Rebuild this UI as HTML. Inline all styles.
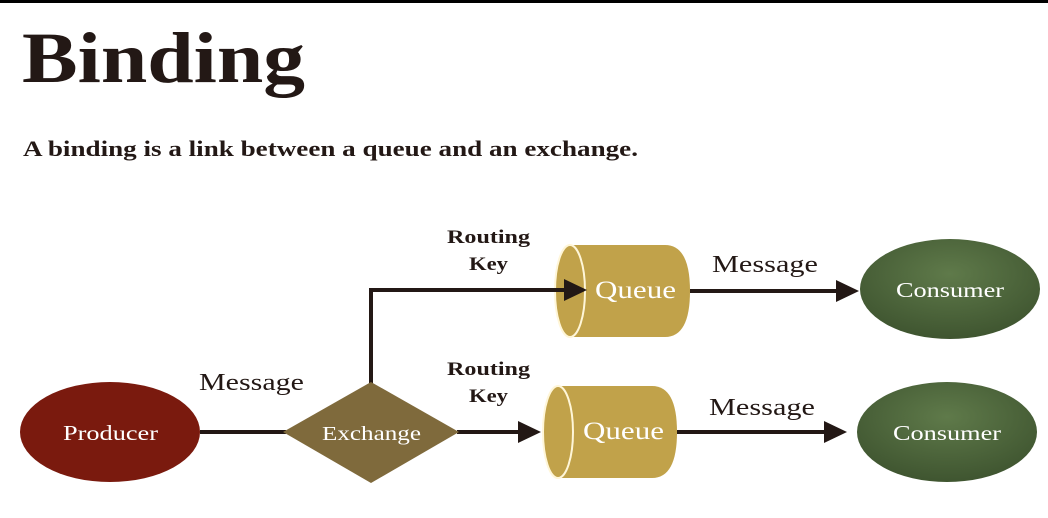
<!DOCTYPE html>
<html><head><style>
body{margin:0;width:1048px;height:513px;background:#fff;overflow:hidden;}
</style></head><body>
<svg width="1048" height="513" xmlns="http://www.w3.org/2000/svg" font-family="Liberation Serif, serif">
<defs>
<radialGradient id="g" cx="50%" cy="35%" r="65%"><stop offset="0" stop-color="#5f7a4a"/><stop offset="1" stop-color="#3f5530"/></radialGradient>
</defs>
<rect x="0" y="0" width="1048" height="3" fill="#000"/>
<text x="22" y="82" font-size="72" font-weight="bold" fill="#231815" textLength="283" lengthAdjust="spacingAndGlyphs">Binding</text>
<text x="23" y="156" font-size="22" font-weight="bold" fill="#231815" textLength="615" lengthAdjust="spacingAndGlyphs">A binding is a link between a queue and an exchange.</text>
<g stroke="#231815" stroke-width="4" fill="none">
<line x1="200" y1="432" x2="286" y2="432"/>
<polyline points="371,384 371,290 566,290"/>
<line x1="457" y1="432" x2="520" y2="432"/>
<line x1="690" y1="291" x2="838" y2="291"/>
<line x1="677" y1="432" x2="826" y2="432"/>
</g>
<g fill="#231815">
<polygon points="518,421 541,432 518,443"/>
<polygon points="836,280 859,291 836,302"/>
<polygon points="824,421 847,432 824,443"/>
</g>
<ellipse cx="110" cy="432" rx="90" ry="50" fill="#7a1a0e"/>
<text x="63" y="440" font-size="21" fill="#fff" textLength="95" lengthAdjust="spacingAndGlyphs">Producer</text>
<polygon points="371,382 459,432 371,483 283,432" fill="#7f6a3c"/>
<text x="322" y="440" font-size="20" fill="#fff" textLength="99" lengthAdjust="spacingAndGlyphs">Exchange</text>
<g stroke="#fff6d8" stroke-width="2">
<path d="M570,245 L665,245 Q690,245 690,291 Q690,337 665,337 L570,337 Z" fill="#c1a24a" stroke="none"/>
<ellipse cx="570" cy="291" rx="15" ry="46" fill="#c1a24a"/>
<path d="M558,386 L652,386 Q677,386 677,432 Q677,478 652,478 L558,478 Z" fill="#c1a24a" stroke="none"/>
<ellipse cx="558" cy="432" rx="15" ry="46" fill="#c1a24a"/>
</g>
<line x1="554" y1="290" x2="568" y2="290" stroke="#231815" stroke-width="4"/>
<polygon points="564,279 587,290 564,301" fill="#231815"/>
<text x="595" y="298" font-size="25" fill="#fff" textLength="81" lengthAdjust="spacingAndGlyphs">Queue</text>
<text x="583" y="439" font-size="25" fill="#fff" textLength="81" lengthAdjust="spacingAndGlyphs">Queue</text>
<ellipse cx="950" cy="289" rx="90" ry="50" fill="url(#g)"/>
<text x="896" y="297" font-size="21" fill="#fff" textLength="108" lengthAdjust="spacingAndGlyphs">Consumer</text>
<ellipse cx="947" cy="432" rx="90" ry="50" fill="url(#g)"/>
<text x="893" y="440" font-size="21" fill="#fff" textLength="108" lengthAdjust="spacingAndGlyphs">Consumer</text>
<g fill="#231815">
<text x="199" y="390" font-size="24" textLength="105" lengthAdjust="spacingAndGlyphs">Message</text>
<text x="712" y="272" font-size="24" textLength="106" lengthAdjust="spacingAndGlyphs">Message</text>
<text x="709" y="415" font-size="24" textLength="106" lengthAdjust="spacingAndGlyphs">Message</text>
<text x="447" y="243" font-size="19" font-weight="bold" textLength="83" lengthAdjust="spacingAndGlyphs">Routing</text>
<text x="469" y="270" font-size="19" font-weight="bold" textLength="39" lengthAdjust="spacingAndGlyphs">Key</text>
<text x="447" y="375" font-size="19" font-weight="bold" textLength="83" lengthAdjust="spacingAndGlyphs">Routing</text>
<text x="469" y="402" font-size="19" font-weight="bold" textLength="39" lengthAdjust="spacingAndGlyphs">Key</text>
</g>
</svg>
</body></html>
